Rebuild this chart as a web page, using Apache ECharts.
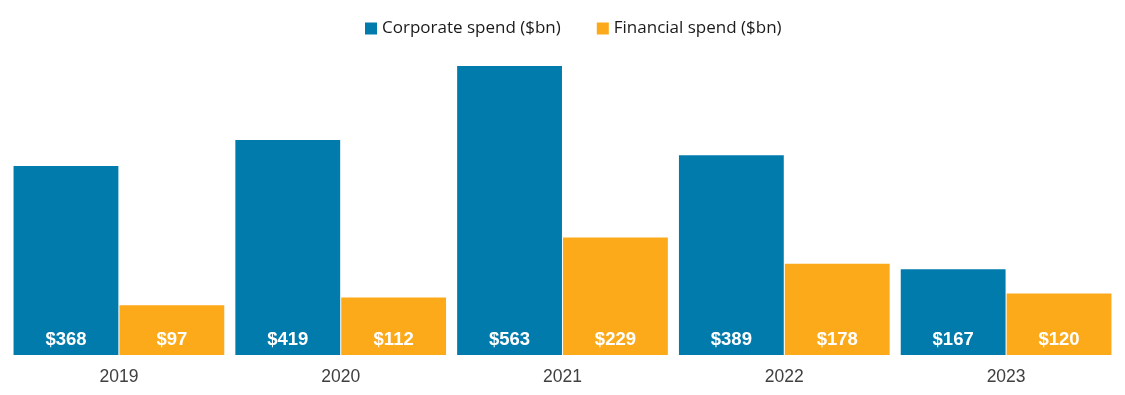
<!DOCTYPE html>
<html><head><meta charset="utf-8">
<script src="https://cdn.jsdelivr.net/npm/echarts@6/dist/echarts.min.js"></script>
<style>html,body{margin:0;padding:0;background:#fff}#c{width:1125px;height:395px}</style>
</head><body><div id="c"></div>
<script>
const categories = ['2019','2020','2021','2022','2023'];
const corporate = [368, 419, 563, 389, 167];
const financial = [97, 112, 229, 178, 120];
const seriesNames = ['Corporate spend ($bn)', 'Financial spend ($bn)'];

const chart = echarts.init(document.getElementById('c'));
const lbl = {
  show: true, position: 'insideBottom', distance: 6,
  color: '#fff', fontWeight: 'bold', fontSize: 18.5,
  fontFamily: 'Liberation Sans, Arial, sans-serif',
  formatter: p => '$' + p.value
};
chart.setOption({
  animation: false,
  legend: {
    top: 15, left: 360, itemWidth: 12, itemHeight: 12, itemGap: 36,
    icon: 'rect',
    textStyle: { fontSize: 17, color: '#1a1a1a', fontFamily: 'Open Sans, Noto Sans, sans-serif' }
  },
  grid: { left: 8, right: 8, top: 66, bottom: 40 },
  xAxis: {
    type: 'category', data: categories,
    axisLine: { show: false }, axisTick: { show: false },
    axisLabel: { fontSize: 17.5, color: '#404040', margin: 13, fontFamily: 'Liberation Sans, Arial, sans-serif' }
  },
  yAxis: { type: 'value', min: 0, max: 563, show: false, splitLine: { show: false } },
  series: [
    { name: seriesNames[0], type: 'bar', data: corporate, barGap: '1%', barCategoryGap: '5%',
      itemStyle: { color: '#007BAC' }, label: lbl },
    { name: seriesNames[1], type: 'bar', data: financial,
      itemStyle: { color: '#FDAA1A' }, label: lbl }
  ]
});
</script></body></html>
